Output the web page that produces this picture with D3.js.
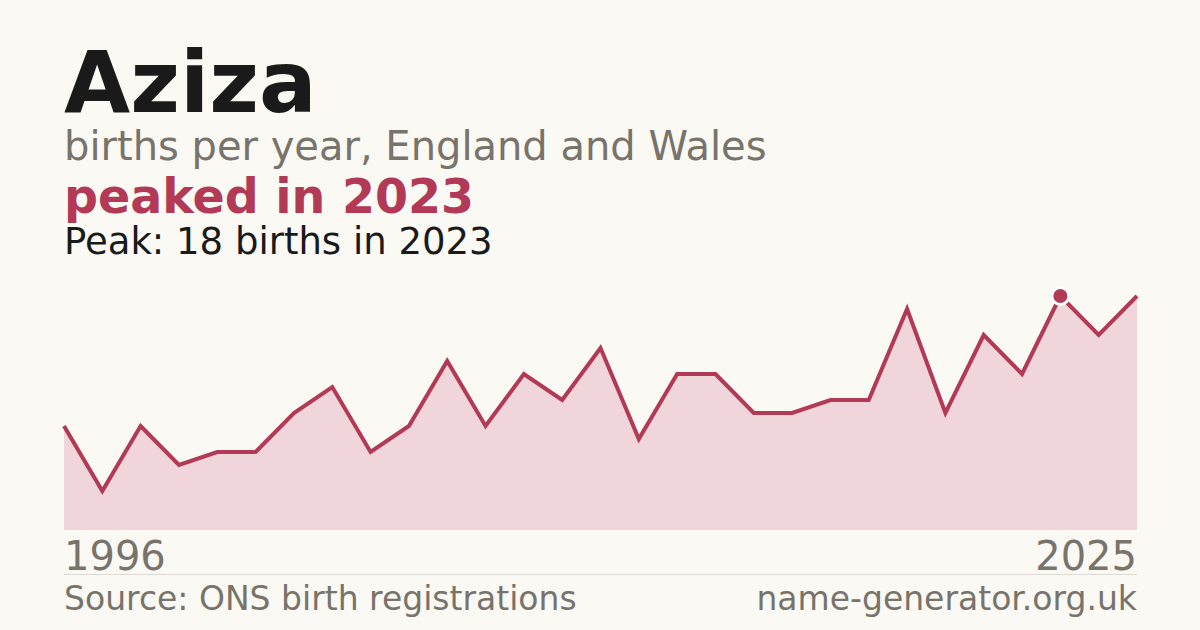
<!DOCTYPE html>
<html lang="en">
<head>
<meta charset="UTF-8">
<title>Aziza - births per year</title>
<script src="https://d3js.org/d3.v7.min.js"></script>
<style>
  html, body { margin: 0; padding: 0; background: #faf9f4; }
  svg { display: block; font-family: "DejaVu Sans", sans-serif; }
</style>
</head>
<body>
<svg width="1200" height="630"></svg>
<script>
    // one point per registered year (no point for 1997)
    const years = [1996, 1998, 1999, 2000, 2001, 2002, 2003, 2004, 2005, 2006,
                   2007, 2008, 2009, 2010, 2011, 2012, 2013, 2014, 2015, 2016,
                   2017, 2018, 2019, 2020, 2021, 2022, 2023, 2024, 2025];
    const births = [8, 3, 8, 5, 6, 6, 9, 11, 6, 8,
                    13, 8, 12, 10, 14, 7, 12, 12, 9, 9,
                    10, 10, 17, 9, 15, 12, 18, 15, 18];

    const name = "Aziza";
    const subtitle = "births per year, England and Wales";
    const source = "Source: ONS birth registrations";
    const site = "name-generator.org.uk";

    const data = years.map((y, i) => ({ year: y, births: births[i] }));
    const peak = data.reduce((a, b) => b.births > a.births ? b : a);

    const chart = { left: 64, right: 1137, top: 296, bottom: 530 };
    const crimson = "#b33a57";
    const grey = "#78736b";

    const svg = d3.select("svg");

    svg.append("rect").attr("width", 1200).attr("height", 630).attr("fill", "#faf9f4");

    const x = d3.scalePoint()
        .domain(years)
        .range([chart.left, chart.right]);

    const y = d3.scaleLinear()
        .domain([0, d3.max(births)])
        .range([chart.bottom, chart.top]);

    // header
    svg.append("text").attr("x", 64).attr("y", 112)
        .attr("font-size", 85.5).attr("font-weight", "bold").attr("fill", "#1a1a1a")
        .text(name);
    svg.append("text").attr("x", 64).attr("y", 160)
        .attr("font-size", 40).attr("fill", grey)
        .text(subtitle);
    svg.append("text").attr("x", 64).attr("y", 212.5)
        .attr("font-size", 47.5).attr("font-weight", "bold").attr("fill", crimson)
        .text(`peaked in ${peak.year}`);
    svg.append("text").attr("x", 64).attr("y", 253.5)
        .attr("font-size", 37).attr("fill", "#1a1a1a")
        .text(`Peak: ${peak.births} births in ${peak.year}`);

    // area + line
    svg.append("path")
        .datum(data)
        .attr("fill", "#f0d5da")
        .attr("d", d3.area().x(d => x(d.year)).y0(chart.bottom).y1(d => y(d.births)));

    svg.append("path")
        .datum(data)
        .attr("fill", "none")
        .attr("stroke", crimson)
        .attr("stroke-width", 4)
        .attr("stroke-linejoin", "miter")
        .attr("d", d3.line().x(d => x(d.year)).y(d => y(d.births)));

    svg.append("circle")
        .attr("cx", x(peak.year))
        .attr("cy", y(peak.births))
        .attr("r", 8.5)
        .attr("fill", crimson)
        .attr("stroke", "#ffffff")
        .attr("stroke-width", 3);

    // year labels
    svg.append("text").attr("x", chart.left).attr("y", 570)
        .attr("font-size", 40).attr("fill", grey)
        .text(years[0]);
    svg.append("text").attr("x", chart.right).attr("y", 570)
        .attr("font-size", 40).attr("fill", grey).attr("text-anchor", "end")
        .text(years[years.length - 1]);

    svg.append("line")
        .attr("x1", chart.left).attr("x2", chart.right).attr("y1", 574.5).attr("y2", 574.5)
        .attr("stroke", "#dddad3").attr("stroke-width", 1);

    // footer
    svg.append("text").attr("x", chart.left).attr("y", 610)
        .attr("font-size", 33).attr("fill", grey)
        .text(source);
    svg.append("text").attr("x", chart.right).attr("y", 610)
        .attr("font-size", 33).attr("fill", grey).attr("text-anchor", "end")
        .text(site);
</script>
</body>
</html>
